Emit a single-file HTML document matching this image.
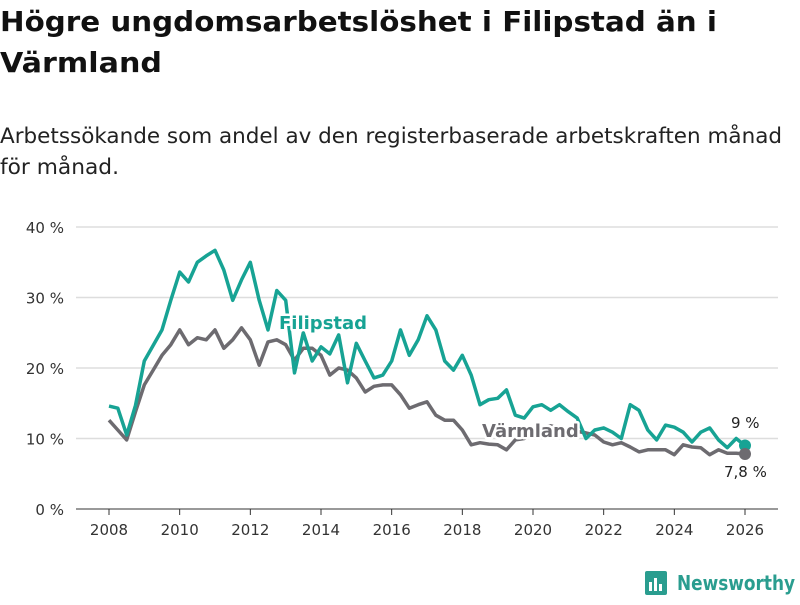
<!DOCTYPE html>
<html><head><meta charset="utf-8"><style>
body{margin:0;background:#fff;width:800px;height:600px;overflow:hidden;font-family:"Liberation Sans","DejaVu Sans",sans-serif;}
</style></head><body>
<svg id="chart" width="800" height="600" viewBox="0 0 800 600" style="font-family:'DejaVu Sans','Liberation Sans',sans-serif">
<text x="0" y="31" font-size="28" font-weight="bold" fill="#111" textLength="717" lengthAdjust="spacingAndGlyphs">Högre ungdomsarbetslöshet i Filipstad än i</text>
<text x="0" y="72" font-size="28" font-weight="bold" fill="#111" textLength="162" lengthAdjust="spacingAndGlyphs">Värmland</text>
<text x="0" y="143" font-size="21" fill="#222" textLength="782" lengthAdjust="spacingAndGlyphs">Arbetssökande som andel av den registerbaserade arbetskraften månad</text>
<text x="0" y="174" font-size="21" fill="#222" textLength="119" lengthAdjust="spacingAndGlyphs">för månad.</text>
<g id="grid"></g><g id="xaxis"></g><g id="lines"></g><g id="labels"></g>
<g>
<rect x="645" y="571" width="22" height="24" rx="2" fill="#2a9d8f"/>
<rect x="649" y="582" width="3" height="9" fill="#fff"/><rect x="654" y="578" width="3" height="13" fill="#fff"/><rect x="659" y="584" width="3" height="7" fill="#fff"/>
<text x="677" y="590" font-size="20" font-weight="bold" fill="#2a9d8f" textLength="118" lengthAdjust="spacingAndGlyphs">Newsworthy</text>
</g>
</svg>
<script>
const startYear = 2008;
const yTicks = [0,10,20,30,40];
const xTicks = [2008,2010,2012,2014,2016,2018,2020,2022,2024,2026];
const filipstad = [14.6,14.3,10.5,14.7, 21,23.2,25.4,29.6, 33.6,32.2,35,35.9, 36.7,33.9,29.6,32.5, 35,29.6,25.4,31, 29.6,19.3,25,21, 23,22,24.7,17.9, 23.5,21,18.6,19, 21,25.4,21.8,24, 27.4,25.4,21,19.7, 21.8,19,14.8,15.5, 15.7,16.9,13.3,12.9, 14.5,14.8,14,14.8, 13.8,12.9,10,11.2, 11.5,10.9,10,14.8, 14,11.2,9.8,11.9, 11.6,10.9,9.5,10.9, 11.5,9.8,8.7,10, 9];
const varmland = [12.6,11.2,9.8,13.8, 17.6,19.7,21.8,23.3, 25.4,23.3,24.3,24, 25.4,22.8,24,25.7, 24,20.4,23.7,24, 23.3,21.1,22.8,22.8, 21.8,19,20,19.7, 18.6,16.6,17.4,17.6, 17.6,16.2,14.3,14.8, 15.2,13.3,12.6,12.6, 11.2,9.1,9.4,9.2, 9.1,8.4,9.8,10, 10.5,11.5,11.8,11.5, 11.2,11,10.8,10.5, 9.5,9.1,9.4,8.8, 8.1,8.4,8.4,8.4, 7.7,9.1,8.8,8.7, 7.7,8.4,7.9,7.9, 7.8];
const step = 0.25;
const NS="http://www.w3.org/2000/svg";
const xS = yr => 109 + (yr-2008)*(745-109)/18;
const yS = v => 509 - v*7.05;
function mk(tag, attrs, parent){const e=document.createElementNS(NS,tag);for(const k in attrs)e.setAttribute(k,attrs[k]);document.getElementById(parent).appendChild(e);return e;}
yTicks.forEach(t=>{
  const l=mk('line',{x1:76,x2:778,y1:yS(t),y2:yS(t),stroke:t===0?'#333':'#ddd','stroke-width':t===0?1:1.5},'grid');
  
  
  const tx=mk('text',{x:64,y:yS(t)+6,'text-anchor':'end','font-size':15,fill:'#333'},'grid');
  tx.textContent=t+' %';
  
  
});
xTicks.forEach(t=>{
  const l=mk('line',{x1:xS(t),x2:xS(t),y1:509,y2:515,stroke:'#333'},'xaxis');
  
  
  const tx=mk('text',{x:xS(t),y:535,'text-anchor':'middle','font-size':15,fill:'#333'},'xaxis');
  tx.textContent=t;
  
  
});
function path(arr){return arr.map((v,i)=>(i?'L':'M')+xS(startYear+i*step).toFixed(1)+','+yS(v).toFixed(1)).join('');}
const pv=mk('path',{d:path(varmland),fill:'none',stroke:'#6d6b70','stroke-width':3.5,'stroke-linejoin':'round'},'lines');


const pf=mk('path',{d:path(filipstad),fill:'none',stroke:'#17a394','stroke-width':3.5,'stroke-linejoin':'round'},'lines');


const lastI=filipstad.length-1;
const df=mk('circle',{cx:xS(startYear+lastI*step),cy:yS(filipstad[lastI]),r:6,fill:'#17a394'},'lines');


const lastV=varmland.length-1;
const dv=mk('circle',{cx:xS(startYear+lastV*step),cy:yS(varmland[lastV]),r:6,fill:'#6d6b70'},'lines');


function lab(x,y,txt,fill,bold,name,halo){
  const t=mk('text',{x:x,y:y,'font-size':bold?18:15,'font-weight':bold?'bold':'normal',fill:fill,stroke:halo?'#fff':'none','stroke-width':halo?5:0,'paint-order':'stroke','stroke-linejoin':'round'},'labels');
  t.textContent=txt;
  
  
}
lab(279,329,'Filipstad','#17a394',true,'filipstad-label',true);
lab(482,437,'Värmland','#6d6b70',true,'varmland-label',true);
lab(731,428,filipstad[lastI].toString().replace('.',',')+' %','#222',false,'filipstad-end-value',true);
lab(724,477,varmland[lastV].toString().replace('.',',')+' %','#222',false,'varmland-end-value',true);
</script>
</body></html>
